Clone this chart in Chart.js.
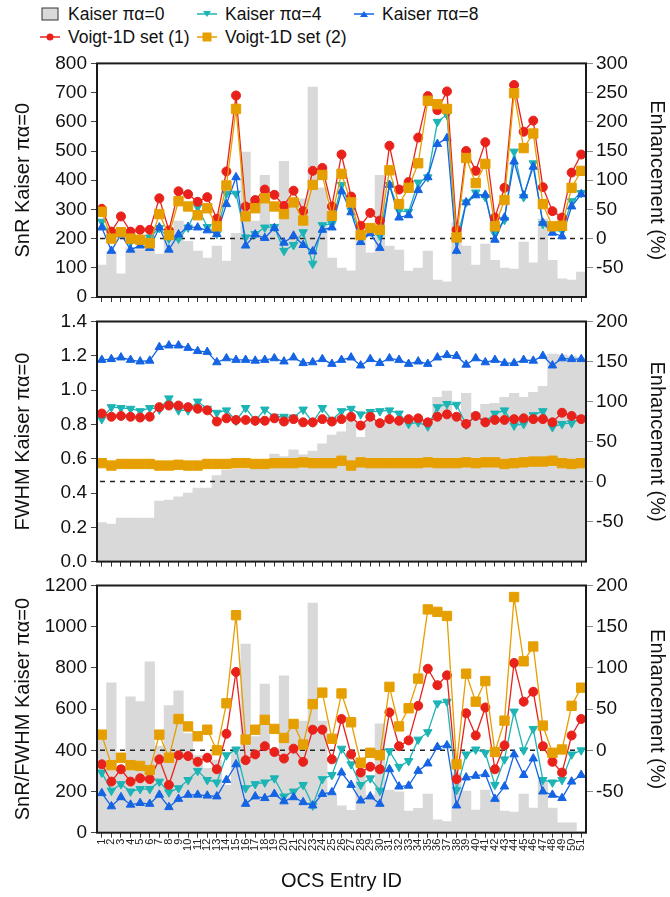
<!DOCTYPE html>
<html>
<head>
<meta charset="utf-8">
<script src="https://cdn.jsdelivr.net/npm/chart.js@4.4.0/dist/chart.umd.min.js"></script>
<style>
  body { margin: 0; width: 670px; height: 897px; background: #fff; position: relative; overflow: hidden;
         font-family: "Liberation Sans", Arial, sans-serif; }
  .panel { position: absolute; left: 0; width: 670px; }
  .item { position: absolute; display: flex; align-items: center; font-size: 17.5px; color: #111; white-space: nowrap; height: 22px; }
  .item svg { margin-right: 8px; }
</style>
</head>
<body>
<div id="legend"></div>
<div class="panel" style="top:48px;height:270px"><canvas id="snr" width="670" height="270"></canvas></div>
<div class="panel" style="top:305px;height:272px"><canvas id="fwhm" width="670" height="272"></canvas></div>
<div class="panel" style="top:570px;height:327px"><canvas id="ratio" width="670" height="327"></canvas></div>
<script>
// OCS entries 1..51
var entryIds = ['1','2','3','4','5','6','7','8','9','10','11','12','13','14','15','16','17','18','19','20',
  '21','22','23','24','25','26','27','28','29','30','31','32','33','34','35','36','37','38','39','40',
  '41','42','43','44','45','46','47','48','49','50','51'];

var seriesNames = ['Kaiser πα=0', 'Kaiser πα=4', 'Kaiser πα=8', 'Voigt-1D set (1)', 'Voigt-1D set (2)'];

// --- SnR (left axis: Kaiser πα=0, right axis: enhancement %) ---
var snrKaiser0 = [109,155,79,168,162,211,147,221,260,191,157,133,174,123,218,496,260,417,250,465,
  336,336,719,374,133,99,90,219,151,417,174,161,89,99,157,58,52,255,174,109,
  181,126,99,96,188,117,267,126,62,58,85];
var snrKaiser4 = [29,2,14,-6,-3,2,18,0,0,19,54,20,8,77,77,2,8,19,20,-21,
  -11,11,-43,23,25,92,48,8,17,5,92,48,46,96,105,200,212,-3,62,79,
  71,8,32,149,71,129,25,14,13,64,78];
var snrKaiser8 = [19,-21,7,-19,-12,-16,19,-19,7,20,19,14,8,59,105,-12,7,1,18,-7,
  5,-11,-22,15,19,81,45,-6,9,-16,92,36,40,83,105,162,172,-21,62,74,
  75,-2,36,132,74,123,27,10,4,55,76];
var snrVoigt1 = [51,12,38,12,15,15,69,14,81,76,63,71,34,115,245,55,66,84,75,56,
  82,47,116,121,55,144,72,22,44,31,159,84,97,173,244,220,252,15,150,116,
  165,36,87,263,183,202,88,47,36,113,144];
var snrVoigt2 = [46,0,11,0,-2,-8,42,6,64,55,40,52,21,91,222,38,52,69,55,42,
  62,31,92,109,39,111,62,6,18,15,117,59,87,129,236,230,222,2,138,95,
  128,21,66,249,155,180,59,21,22,87,116];

// --- FWHM ---
var fwhmKaiser0 = [0.227,0.219,0.254,0.254,0.254,0.254,0.353,0.359,0.377,0.400,0.429,0.429,0.501,0.534,0.540,0.540,0.553,0.577,0.627,0.612,
  0.651,0.622,0.645,0.686,0.738,0.756,0.826,0.725,0.82,0.80,0.83,0.82,0.83,0.83,0.83,0.958,0.995,0.861,0.981,0.872,
  0.917,0.923,0.958,0.981,0.958,0.987,1.022,1.21,1.206,1.199,1.19];
var fwhmKaiser4 = [78,93,92,91,88,92,90,104,89,89,100,91,86,89,76,92,76,90,81,81,
  80,90,74,92,77,88,91,84,87,88,89,85,72,74,69,93,97,96,71,82,
  75,85,89,70,72,83,88,68,72,73,79];
var fwhmKaiser8 = [152,153,155,152,150,151,168,170,170,167,163,162,149,154,152,152,151,152,154,150,
  155,148,149,153,147,152,155,145,153,148,154,152,147,150,147,155,158,157,146,154,
  149,152,148,148,152,151,157,145,154,153,153];
var fwhmVoigt1 = [85,81,82,81,80,81,93,95,95,93,91,89,75,79,77,77,76,76,79,75,
  78,74,74,78,75,78,81,70,81,73,78,76,78,79,74,81,84,81,72,82,
  74,77,77,78,79,78,78,74,86,82,78];
var fwhmVoigt2 = [23,20,22,22,22,22,20,20,21,20,20,22,22,22,23,23,22,22,23,23,
  23,24,23,23,23,26,20,24,23,23,23,23,23,23,24,23,23,23,24,23,
  24,24,22,23,24,25,25,26,23,22,23];

// --- SnR/FWHM ---
var ratioKaiser0 = [452,728,311,660,636,830,420,617,689,481,374,312,353,230,404,916,466,722,399,762,
  516,542,1115,542,180,131,109,300,183,528,207,199,105,118,188,62,54,290,202,110,
  207,175,105,100,188,120,252,120,48,48,6];
var ratioKaiser4 = [-27,-49,-41,-50,-47,-47,-38,-51,-46,-36,-25,-36,-39,-6,1,-46,-41,-39,-34,-56,
  -50,-42,-67,-35,-30,2,-17,-42,-34,-49,-1,-20,-13,13,22,57,59,-48,-5,1,
  -3,-42,-11,47,0,26,-36,-39,-36,-5,0];
var ratioKaiser8 = [-52,-68,-57,-66,-64,-65,-54,-69,-59,-54,-54,-55,-56,-36,-17,-65,-56,-58,-53,-62,
  -57,-63,-67,-53,-51,-27,-42,-61,-56,-65,-23,-44,-43,-25,-16,4,6,-67,-33,-31,
  -29,-59,-44,-5,-30,-10,-50,-54,-58,-38,-30];
var ratioVoigt1 = [-17,-38,-23,-38,-34,-35,-11,-42,-6,-7,-14,-9,-23,20,95,-12,-5,5,-2,-10,
  2,-14,25,25,-11,38,-5,-27,-20,-23,46,5,12,54,99,79,91,-35,45,18,
  52,-23,6,106,59,71,5,-14,-27,18,38];
var ratioVoigt2 = [19,-18,-9,-18,-19,-24,19,-9,38,29,17,25,0,57,164,13,25,37,26,15,
  32,7,56,70,14,69,34,-15,-3,-6,77,29,51,87,171,168,163,-17,93,59,
  84,-2,36,186,108,126,30,-3,1,54,76];

var GRAY = '#d9d9d9', TEAL = '#1cb4b4', BLUE = '#1464e4', RED = '#e8221b', ORANGE = '#e69f00';
var FONT = "'Liberation Sans', Arial, sans-serif";

Chart.defaults.font.family = FONT;
Chart.defaults.color = '#111';

function lineSet(label, data, color, style, rotation, radius, order) {
  return {
    type: 'line', label: label, data: data, yAxisID: 'y1', order: order,
    borderColor: color, backgroundColor: color, borderWidth: 1.3,
    pointStyle: style, pointRotation: rotation, pointRadius: radius,
    pointBackgroundColor: color, pointBorderColor: color, pointBorderWidth: 1,
    clip: false
  };
}

// frame around the plot area + dashed zero-enhancement line drawn above the bars
var framePlugin = {
  id: 'frame',
  afterDatasetDraw: function (chart, args) {
    if (args.index !== 0) return;
    var a = chart.chartArea, ctx = chart.ctx;
    var y = chart.scales.y1.getPixelForValue(0);
    ctx.save();
    ctx.setLineDash([5, 5]);
    ctx.strokeStyle = '#222';
    ctx.lineWidth = 1.5;
    ctx.beginPath();
    ctx.moveTo(a.left + 3, y);
    ctx.lineTo(a.right - 3, y);
    ctx.stroke();
    ctx.restore();
  },
  afterDraw: function (chart) {
    var a = chart.chartArea, ctx = chart.ctx;
    ctx.save();
    ctx.strokeStyle = '#1a1a1a';
    ctx.lineWidth = 2;
    ctx.strokeRect(a.left, a.top, a.right - a.left, a.bottom - a.top);
    ctx.restore();
  }
};

function makePanel(id, p) {
  return new Chart(document.getElementById(id), {
    type: 'bar',
    data: {
      labels: entryIds,
      datasets: [
        { label: seriesNames[0], data: p.k0, yAxisID: 'y', order: 5, backgroundColor: GRAY,
          borderWidth: 0, barPercentage: 1, categoryPercentage: 1 },
        lineSet(seriesNames[1], p.k4, TEAL, 'triangle', 180, 4.9, 4),
        lineSet(seriesNames[2], p.k8, BLUE, 'triangle', 0, 4.9, 3),
        lineSet(seriesNames[3], p.v1, RED, 'circle', 0, 4.5, 2),
        lineSet(seriesNames[4], p.v2, ORANGE, 'rect', 0, 6.6, 1)
      ]
    },
    options: {
      responsive: false,
      animation: false,
      layout: { padding: { top: p.padTop, left: 0, right: 0, bottom: 0 } },
      plugins: { legend: { display: false }, tooltip: { enabled: false } },
      scales: {
        x: {
          grid: { offset: false, drawOnChartArea: false, tickLength: 5, color: '#333' },
          border: { display: false },
          ticks: { display: p.showIds, font: { size: 11 }, minRotation: 90, maxRotation: 90,
                   autoSkip: false, padding: 1, color: '#222' },
          title: { display: p.showIds, text: 'OCS Entry ID', font: { size: 20 }, padding: { top: 0, bottom: 4 } },
          afterFit: function (s) { s.height = p.xHeight; }
        },
        y: {
          position: 'left', min: p.min, max: p.max,
          ticks: { stepSize: p.step, font: { size: 19 }, padding: 4,
                   callback: function (v) { return p.digits ? v.toFixed(p.digits) : v; } },
          grid: { drawOnChartArea: false, tickLength: 6, color: '#444' },
          border: { display: false },
          title: { display: true, text: p.title, font: { size: 20 }, padding: { top: 11, bottom: 0 } },
          afterFit: function (s) { s.width = 97; }
        },
        y1: {
          position: 'right', min: p.rmin, max: p.rmax,
          ticks: { stepSize: 50, font: { size: 19 }, padding: 3 },
          afterBuildTicks: function (s) { s.ticks = s.ticks.filter(function (t) { return t.value > s.min; }); },
          grid: { drawOnChartArea: false, tickLength: 7, color: '#8a8a8a' },
          border: { display: false },
          title: { display: true, text: 'Enhancement (%)', font: { size: 20 }, padding: { top: 1, bottom: 0 } },
          afterFit: function (s) { s.width = 84; }
        }
      }
    },
    plugins: [framePlugin]
  });
}

makePanel('snr', {
  k0: snrKaiser0, k4: snrKaiser4, k8: snrKaiser8, v1: snrVoigt1, v2: snrVoigt2,
  title: 'SnR Kaiser πα=0', min: 0, max: 800, step: 100, rmin: -100, rmax: 300,
  padTop: 15, xHeight: 21, showIds: false
});
makePanel('fwhm', {
  k0: fwhmKaiser0, k4: fwhmKaiser4, k8: fwhmKaiser8, v1: fwhmVoigt1, v2: fwhmVoigt2,
  title: 'FWHM Kaiser πα=0', min: 0, max: 1.4, step: 0.2, digits: 1, rmin: -100, rmax: 200,
  padTop: 16.5, xHeight: 15.4, showIds: false
});
makePanel('ratio', {
  k0: ratioKaiser0, k4: ratioKaiser4, k8: ratioKaiser8, v1: ratioVoigt1, v2: ratioVoigt2,
  title: 'SnR/FWHM Kaiser πα=0', min: 0, max: 1200, step: 200, rmin: -100, rmax: 200,
  padTop: 15.5, xHeight: 64.3, showIds: true
});

// legend: three columns, two rows
var legendMarks = [
  '<rect x="2" y="5" width="16" height="12" fill="' + GRAY + '" stroke="#333" stroke-width="1"/>',
  '<line x1="0" y1="11" x2="20" y2="11" stroke="' + TEAL + '" stroke-width="1.5"/><polygon points="6,8 14,8 10,14" fill="' + TEAL + '"/>',
  '<line x1="0" y1="11" x2="20" y2="11" stroke="' + BLUE + '" stroke-width="1.5"/><polygon points="6,14 14,14 10,8" fill="' + BLUE + '"/>',
  '<line x1="0" y1="11" x2="20" y2="11" stroke="' + RED + '" stroke-width="1.5"/><circle cx="10" cy="11" r="3.5" fill="' + RED + '"/>',
  '<line x1="0" y1="11" x2="20" y2="11" stroke="' + ORANGE + '" stroke-width="1.5"/><rect x="5.5" y="6.5" width="9" height="9" fill="' + ORANGE + '"/>'
];
var legendPos = [[40, 3], [197, 3], [354, 3], [40, 26], [197, 26]];
var legendBox = document.getElementById('legend');
seriesNames.forEach(function (name, i) {
  var el = document.createElement('div');
  el.className = 'item';
  el.style.left = legendPos[i][0] + 'px';
  el.style.top = legendPos[i][1] + 'px';
  el.innerHTML = '<svg width="20" height="22">' + legendMarks[i] + '</svg><span>' + name + '</span>';
  legendBox.appendChild(el);
});
</script>
</body>
</html>
